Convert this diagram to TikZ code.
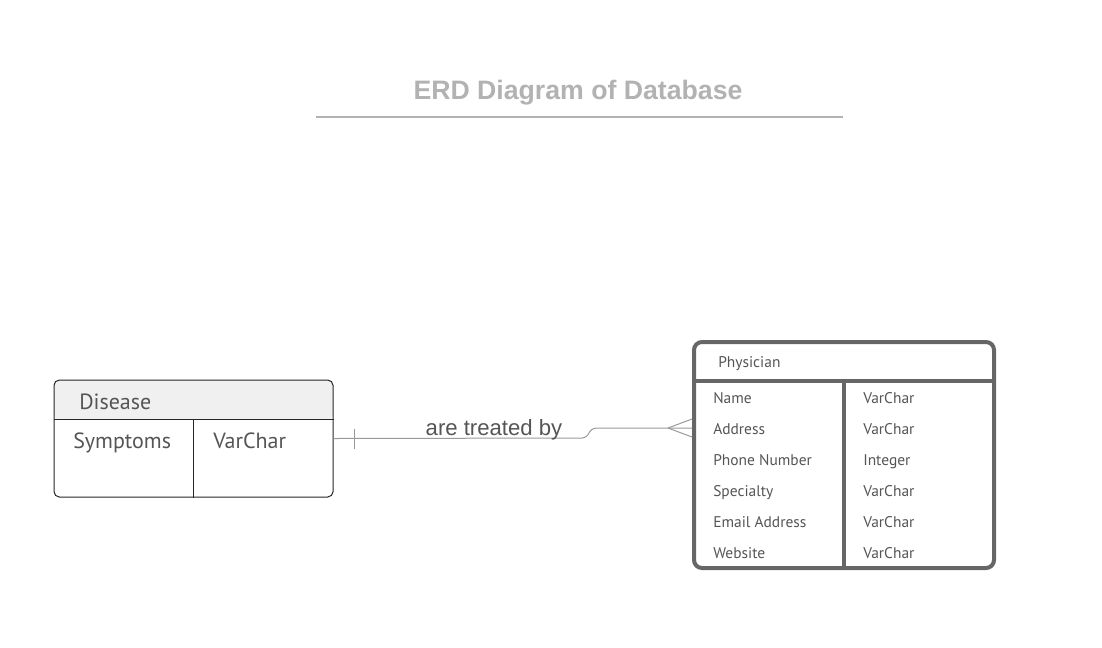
\documentclass[tikz,border=0pt]{standalone}
\usepackage{fontspec}
\setmainfont{Liberation Sans}
\newfontfamily\tablefont{PT Sans}
\usetikzlibrary{positioning, calc}
\definecolor{titlegray}{RGB}{178, 178, 178}
\definecolor{inkgray}{RGB}{85, 85, 85}
\definecolor{linegray}{RGB}{153, 153, 153}
\definecolor{framegray}{RGB}{102, 102, 102}
\definecolor{headfill}{RGB}{240, 240, 240}

\begin{document}
\begin{tikzpicture}[
    x=0.75pt, y=-0.75pt,
    table/.style={rectangle, inner sep=0pt, minimum width=#1},
    attr/.style={anchor=base west, inner sep=0pt, text=inkgray, font=\tablefont\fontsize{11.6}{13}\selectfont},
    bigattr/.style={anchor=base west, inner sep=0pt, text=inkgray, font=\tablefont\fontsize{16.5}{19}\selectfont},
    rel/.style={linegray, line width=0.75pt}
  ]
  \useasboundingbox (0,0) rectangle (1102,647);

  % Title
  \node[font=\bfseries\fontsize{20}{23}\selectfont, text=titlegray, anchor=base] (title) at (578, 99) {ERD Diagram of Database};
  \draw[titlegray, line width=1.5pt] (316,117) -- (843,117);

  % Tables
  \node[table=209.25pt, minimum height=87.75pt, draw=black!85, line width=0.75pt, rounded corners=4pt,
    path picture={\fill[headfill] (path picture bounding box.north west) rectangle ([yshift=-30pt]path picture bounding box.north east);}] (disease) at (193.5, 438.5) {};
  \draw[black!85, line width=0.75pt] ([yshift=-30pt]disease.north west) -- ([yshift=-30pt]disease.north east);
  \draw[black!85, line width=0.75pt] ([yshift=-30pt]disease.north) ++(-0.5,0) -- ([xshift=-0.375pt]disease.south);
  \node[bigattr] (dname) at (79, 409) {Disease};
  \node[bigattr] (d1) at (73, 448) {Symptoms};
  \node[bigattr] (dt1) at (213, 448) {VarChar};

  \node[table=225pt, minimum height=169.5pt, draw=framegray, line width=3pt, rounded corners=6pt] (physician) at (844, 455) {};
  \draw[framegray, line width=3pt] (physician.west |- 0,381) -- (physician.east |- 0,381);
  \draw[framegray, line width=3pt] (physician.north |- 0,381) -- (physician.south);
  \node[attr] (pname) at (718, 367) {Physician};
  \foreach \field/\kind [count=\i] in {Name/VarChar, Address/VarChar, Phone Number/Integer, Specialty/VarChar, Email Address/VarChar, Website/VarChar} {
    \node[attr] (a\i) at (713, 372+31*\i) {\field};
    \node[attr] (t\i) at (863, 372+31*\i) {\kind};
  }

  % Relationship
  \draw[rel, rounded corners=4pt] (disease.east) -- (587,438) -- (591,428) -- (physician.west |- 0,428);
  \draw[rel] ($(disease.east)+(21,-10)$) -- ++(0,20);
  \draw[rel] ($(physician.west |- 0,428)+(-24,0)$) -- ++(24,-9);
  \draw[rel] ($(physician.west |- 0,428)+(-24,0)$) -- ++(24,9);
  \node[font=\fontsize{16.6}{19}\selectfont, text=inkgray, anchor=base] (label) at (494, 435) {are treated by};

\end{tikzpicture}
\end{document}
